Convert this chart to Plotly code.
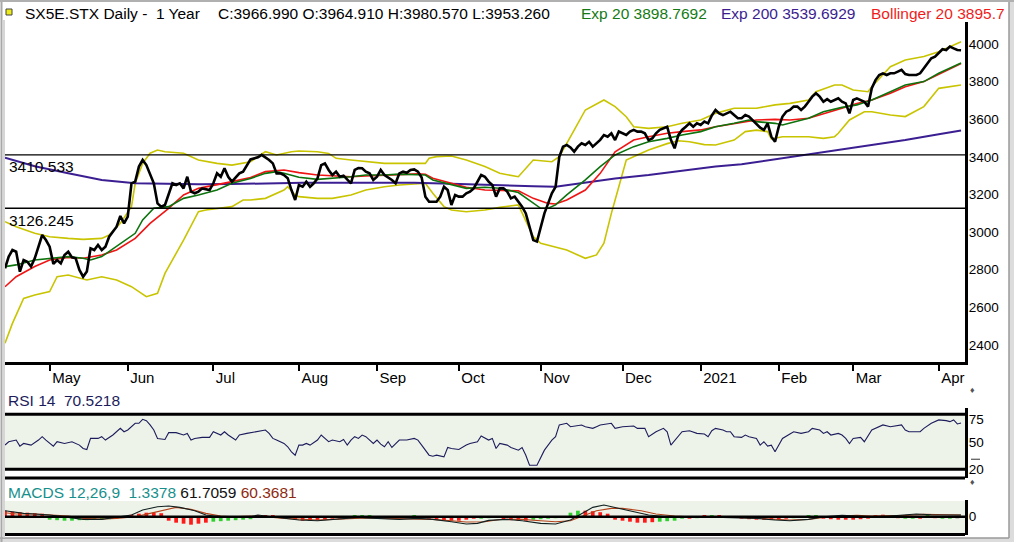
"""SX5E.STX daily, one year: price with Exp 20 / Exp 200 / Bollinger 20, RSI 14 and MACD 12,26,9.

Values are read off a chart screenshot. The x axis counts trading sessions from
the first bar (mid April 2020); month ticks are placed at the first session of each month.
"""
import plotly.graph_objects as go

W, H = 1014, 542

# ---- x axis: month starts, in sessions ----
MONTH_SESSIONS = [12, 33, 56, 79, 100, 122, 144, 166, 187, 208, 228, 251]
MONTH_LABELS = ["May", "Jun", "Jul", "Aug", "Sep", "Oct", "Nov", "Dec", "2021", "Feb", "Mar", "Apr"]

# ---- close ----
CLOSE_S = [0, 1, 2, 3, 4, 5, 6, 7, 8, 9, 10, 11, 12, 13, 14, 15, 16, 17, 18, 19, 20, 21, 22, 23, 24, 25,
           26, 27, 28, 30, 31, 32, 33, 34, 35, 36, 37, 38, 39, 40, 41, 42, 43, 44, 45, 46, 47, 48, 49, 50,
           51, 52, 53, 55, 56, 57, 58, 59, 60, 61, 63, 64, 65, 66, 68, 69, 71, 72, 73, 74, 75, 76, 77, 78,
           79, 80, 81, 82, 83, 84, 85, 86, 87, 88, 89, 90, 91, 92, 93, 94, 95, 96, 97, 98, 99, 100, 101,
           102, 103, 104, 105, 106, 107, 108, 109, 110, 111, 112, 113, 114, 116, 117, 118, 119, 120, 121,
           122, 123, 124, 125, 126, 127, 128, 129, 130, 131, 132, 133, 134, 135, 136, 137, 138, 139, 140,
           141, 142, 143, 144, 145, 146, 147, 148, 149, 150, 151, 152, 153, 154, 155, 156, 157, 158, 159,
           160, 161, 162, 163, 164, 165, 166, 167, 168, 169, 170, 171, 172, 173, 174, 175, 176, 177, 178,
           179, 180, 181, 182, 183, 184, 185, 186, 187, 188, 189, 190, 191, 192, 193, 194, 195, 196, 197,
           198, 199, 200, 201, 202, 203, 204, 205, 206, 207, 208, 209, 210, 211, 212, 213, 214, 215, 216,
           217, 218, 219, 220, 221, 222, 223, 224, 225, 226, 227, 228, 229, 230, 231, 232, 233, 234, 235,
           236, 237, 238, 239, 240, 241, 242, 243, 244, 245, 246, 247, 248, 249, 250, 251, 252, 253, 254,
           255, 256, 257]
CLOSE = [2807, 2869, 2904, 2895, 2789, 2851, 2842, 2816, 2860, 2922, 2984, 2957, 2922, 2830, 2851, 2833,
         2878, 2895, 2865, 2860, 2798, 2762, 2790, 2913, 2904, 2931, 2904, 2922, 2975, 3028, 3085, 3046,
         3082, 3259, 3268, 3348, 3383, 3356, 3312, 3259, 3152, 3135, 3144, 3206, 3259, 3250, 3259, 3232,
         3294, 3215, 3206, 3215, 3232, 3223, 3259, 3312, 3294, 3339, 3294, 3268, 3312, 3321, 3356, 3386,
         3397, 3410, 3383, 3365, 3312, 3312, 3303, 3286, 3223, 3170, 3250, 3241, 3268, 3241, 3259, 3285,
         3356, 3365, 3330, 3303, 3321, 3294, 3300, 3277, 3259, 3330, 3340, 3339, 3321, 3312, 3277, 3294,
         3330, 3303, 3290, 3277, 3259, 3312, 3321, 3315, 3330, 3333, 3321, 3290, 3188, 3161, 3161, 3188,
         3241, 3223, 3144, 3197, 3188, 3188, 3206, 3215, 3232, 3268, 3303, 3294, 3268, 3250, 3188, 3232,
         3232, 3215, 3179, 3188, 3161, 3135, 3099, 3028, 2957, 2949, 3028, 3099, 3152, 3206, 3240, 3400,
         3454, 3463, 3450, 3427, 3454, 3472, 3463, 3480, 3454, 3472, 3490, 3516, 3507, 3525, 3489, 3534,
         3525, 3516, 3534, 3543, 3534, 3534, 3525, 3489, 3498, 3525, 3543, 3551, 3560, 3490, 3445, 3515,
         3543, 3560, 3578, 3560, 3578, 3569, 3587, 3578, 3620, 3649, 3631, 3622, 3631, 3640, 3622, 3605,
         3605, 3622, 3614, 3596, 3578, 3555, 3543, 3578, 3507, 3480, 3560, 3614, 3640, 3649, 3667, 3667,
         3649, 3667, 3693, 3720, 3738, 3720, 3693, 3707, 3693, 3702, 3711, 3693, 3684, 3631, 3702, 3711,
         3702, 3693, 3667, 3765, 3808, 3835, 3844, 3835, 3844, 3844, 3853, 3862, 3840, 3835, 3835, 3835,
         3844, 3871, 3897, 3924, 3933, 3955, 3972, 3968, 3986, 3977, 3968, 3967]

# ---- Exp 20 (green) ----
EXP20_S = [0, 3, 8, 12, 17, 21, 23, 26, 30, 35, 37, 40, 44, 48, 52, 57, 61, 66, 70, 73, 75, 79, 84, 88,
           93, 97, 102, 106, 111, 113, 115, 120, 124, 129, 133, 138, 142, 144, 146, 148, 151, 156, 160,
           164, 169, 173, 178, 182, 187, 191, 196, 200, 202, 207, 209, 216, 220, 225, 229, 233, 238, 242,
           247, 251, 257]
EXP20 = [2816, 2825, 2851, 2860, 2869, 2860, 2851, 2869, 2922, 2993, 3064, 3126, 3135, 3179, 3197, 3223,
         3259, 3285, 3312, 3321, 3312, 3291, 3280, 3285, 3294, 3303, 3303, 3308, 3307, 3303, 3277, 3250,
         3232, 3238, 3233, 3210, 3152, 3126, 3126, 3144, 3197, 3277, 3348, 3410, 3454, 3480, 3498, 3516,
         3534, 3560, 3578, 3596, 3587, 3578, 3569, 3605, 3640, 3663, 3676, 3702, 3746, 3782, 3800, 3844,
         3899]

# ---- Bollinger 20 middle (red) ----
BOLL_MID_S = [0, 3, 8, 12, 17, 21, 26, 30, 35, 39, 44, 48, 52, 57, 61, 66, 70, 75, 79, 84, 88, 93, 97,
              102, 106, 111, 113, 115, 120, 124, 129, 133, 138, 142, 146, 148, 151, 156, 160, 164, 169,
              173, 178, 182, 187, 191, 196, 200, 202, 207, 211, 216, 220, 225, 229, 233, 238, 242, 247,
              251, 257]
BOLL_MID = [2709, 2762, 2816, 2851, 2865, 2860, 2878, 2904, 2966, 3046, 3126, 3197, 3232, 3250, 3268,
            3290, 3321, 3330, 3316, 3303, 3298, 3294, 3298, 3303, 3307, 3309, 3307, 3286, 3259, 3238,
            3223, 3222, 3219, 3179, 3152, 3149, 3170, 3223, 3312, 3427, 3489, 3507, 3525, 3534, 3543,
            3560, 3578, 3590, 3596, 3599, 3596, 3605, 3628, 3658, 3684, 3702, 3738, 3773, 3800, 3840,
            3896]

# ---- Bollinger 20 bands (olive yellow) ----
BOLL_UP_S = [0, 3, 8, 12, 17, 21, 26, 28, 31, 34, 35, 37, 39, 41, 43, 48, 52, 57, 61, 66, 68, 70, 73,
             77, 79, 84, 87, 89, 93, 97, 102, 106, 111, 113, 114, 116, 120, 124, 129, 133, 138, 142, 147,
             149, 153, 156, 161, 164, 167, 169, 173, 178, 182, 187, 191, 196, 198, 202, 207, 211, 216,
             218, 223, 225, 228, 232, 233, 238, 242, 247, 251, 257]
BOLL_UP = [3055, 3028, 2993, 2975, 2966, 2961, 2966, 2984, 3046, 3135, 3259, 3365, 3419, 3436, 3427,
           3419, 3383, 3365, 3356, 3374, 3401, 3427, 3410, 3427, 3431, 3427, 3418, 3392, 3383, 3374, 3365,
           3365, 3365, 3365, 3392, 3401, 3404, 3383, 3348, 3312, 3294, 3383, 3374, 3401, 3542, 3649, 3702,
           3667, 3613, 3560, 3551, 3560, 3578, 3596, 3631, 3658, 3658, 3658, 3676, 3684, 3702, 3746, 3782,
           3782, 3755, 3746, 3773, 3879, 3915, 3933, 3959, 4012]
BOLL_LO_S = [0, 2, 5, 8, 12, 14, 17, 22, 26, 30, 34, 38, 41, 43, 48, 52, 54, 61, 64, 66, 70, 75, 76, 78,
             79, 84, 88, 93, 97, 102, 106, 111, 113, 115, 118, 120, 124, 129, 133, 138, 142, 144, 151,
             156, 159, 161, 163, 165, 167, 170, 173, 178, 181, 184, 188, 191, 196, 199, 202, 205, 206,
             209, 216, 220, 223, 224, 227, 231, 233, 238, 242, 247, 251, 257]
BOLL_LO = [2408, 2514, 2647, 2665, 2683, 2762, 2771, 2745, 2762, 2745, 2709, 2656, 2674, 2780, 2957,
           3108, 3117, 3135, 3170, 3170, 3179, 3223, 3241, 3197, 3188, 3179, 3179, 3197, 3223, 3241, 3250,
           3254, 3259, 3206, 3135, 3117, 3108, 3117, 3131, 3144, 2975, 2940, 2904, 2860, 2878, 2940, 3099,
           3241, 3383, 3410, 3436, 3470, 3485, 3480, 3465, 3463, 3489, 3534, 3542, 3534, 3495, 3507, 3507,
           3498, 3507, 3525, 3596, 3640, 3640, 3622, 3614, 3667, 3764, 3782]

# ---- Exp 200 (purple) ----
EXP200_S = [0, 8, 17, 26, 35, 44, 52, 61, 69, 80, 95, 110, 120, 128, 136, 142, 148, 155, 164, 173, 182,
            191, 198, 206, 215, 224, 233, 242, 251, 257]
EXP200 = [3395, 3350, 3312, 3277, 3259, 3255, 3254, 3255, 3259, 3262, 3262, 3262, 3256, 3250, 3246, 3243,
          3241, 3259, 3285, 3303, 3326, 3348, 3360, 3383, 3410, 3436, 3463, 3489, 3520, 3540]

LEVELS = [3410.533, 3126.245]

# ---- RSI 14 ----
RSI_S = [0, 1, 3, 4, 5, 7, 9, 10, 11, 12, 13, 14, 16, 18, 20, 21, 22, 23, 25, 26, 27, 29, 31, 32, 33, 35,
         36, 37, 38, 39, 40, 41, 43, 44, 46, 48, 49, 50, 51, 53, 55, 56, 58, 59, 60, 62, 63, 65, 67, 69,
         70, 71, 72, 73, 75, 76, 77, 78, 79, 80, 81, 82, 84, 85, 86, 87, 88, 90, 91, 92, 93, 94, 95, 96,
         97, 98, 99, 100, 101, 102, 103, 104, 105, 106, 107, 108, 110, 111, 112, 114, 115, 116, 118, 119,
         120, 122, 124, 125, 127, 128, 130, 131, 132, 133, 135, 136, 138, 139, 140, 141, 143, 145, 147,
         148, 149, 151, 152, 154, 155, 156, 158, 159, 160, 163, 164, 166, 169, 170, 172, 173, 175, 177,
         178, 179, 181, 182, 184, 186, 188, 189, 190, 191, 193, 194, 195, 196, 198, 199, 200, 202, 203,
         204, 205, 206, 207, 208, 209, 211, 212, 214, 216, 217, 219, 220, 221, 222, 224, 225, 226, 227,
         228, 230, 231, 233, 234, 236, 238, 239, 241, 242, 243, 246, 247, 249, 250, 251, 253, 254, 255,
         256, 257]
RSI = [46.4, 50.1, 51.9, 45.3, 48.2, 46.4, 51.9, 55.6, 51.9, 49.0, 45.3, 50.1, 48.2, 50.1, 46.4, 42.7,
       41.6, 53.7, 53.7, 55.6, 51.9, 57.4, 64.7, 61.0, 62.9, 70.2, 70.2, 74.6, 73.1, 68.4, 62.9, 53.7,
       52.6, 60.0, 60.0, 57.4, 59.2, 51.9, 53.7, 54.8, 54.8, 61.0, 57.4, 61.0, 57.4, 51.9, 57.4, 59.2,
       61.0, 62.1, 62.9, 59.2, 53.7, 51.9, 48.2, 44.6, 39.1, 35.4, 46.4, 46.4, 48.2, 46.4, 51.9, 57.4,
       53.7, 50.1, 51.9, 50.1, 52.6, 46.4, 51.9, 55.6, 53.7, 57.4, 55.6, 51.9, 48.2, 51.9, 47.5, 44.6,
       50.1, 43.8, 48.2, 51.9, 51.9, 51.9, 53.7, 51.9, 46.4, 35.4, 34.3, 35.4, 33.6, 43.8, 42.7, 41.6,
       46.4, 48.2, 50.1, 56.3, 51.9, 53.7, 42.7, 48.2, 46.4, 43.8, 40.9, 43.8, 35.4, 24.4, 24.4, 40.9,
       51.9, 55.6, 68.4, 70.2, 66.5, 67.3, 68.4, 66.5, 64.7, 66.5, 68.4, 70.2, 64.7, 66.5, 67.3, 64.7,
       64.7, 55.6, 61.0, 64.7, 61.0, 46.4, 55.6, 61.0, 62.1, 59.2, 58.5, 55.6, 62.1, 64.7, 62.9, 61.0,
       61.0, 55.6, 54.8, 57.4, 55.6, 53.7, 46.4, 50.1, 45.3, 46.4, 39.1, 46.4, 53.7, 58.5, 61.0, 59.2,
       61.0, 64.7, 62.9, 59.2, 61.0, 57.4, 59.2, 57.4, 53.7, 48.2, 53.7, 54.8, 50.1, 62.9, 64.7, 68.4,
       66.5, 67.3, 68.4, 62.9, 61.0, 61.0, 64.7, 70.2, 72.0, 73.9, 73.1, 72.0, 73.9, 69.5, 70.5]

# ---- MACD 12,26,9 ----
MACD_S = [0, 2, 5, 8, 12, 17, 21, 26, 30, 34, 37, 41, 44, 47, 51, 54, 58, 61, 66, 68, 70, 75, 79, 84, 88,
          93, 95, 97, 102, 106, 111, 115, 120, 124, 127, 130, 135, 139, 144, 148, 152, 156, 158, 161, 164,
          169, 173, 178, 184, 193, 202, 207, 211, 216, 220, 225, 229, 233, 238, 242, 245, 249, 252, 257]
MACD = [216, 180, 120, 96, 60, -24, -96, -96, -24, 60, 240, 360, 384, 336, 216, 60, 0, -24, 0, 60, 24,
        -60, -120, -144, -96, -60, -24, -48, -72, -96, -60, -96, -180, -264, -240, -132, -96, -144, -240,
        -264, -120, 180, 336, 420, 336, 180, 60, 0, -24, -24, -60, -120, -144, -96, 0, 48, 24, 0, 24, 60,
        96, 72, 72, 62]
SIGNAL_S = [0, 3, 8, 12, 17, 21, 26, 30, 35, 39, 44, 46, 50, 54, 58, 61, 66, 70, 75, 79, 84, 88, 93, 97,
            102, 106, 111, 115, 120, 124, 129, 133, 135, 139, 144, 148, 152, 156, 159, 163, 166, 171, 175,
            180, 184, 193, 202, 207, 211, 216, 220, 225, 229, 233, 238, 242, 247, 251, 257]
SIGNAL = [144, 96, 96, 60, 24, -60, -84, -60, 0, 120, 264, 336, 264, 120, 24, 0, 24, 0, -60, -96, -120,
          -96, -60, -48, -60, -72, -72, -96, -144, -192, -180, -100, -90, -96, -144, -180, -144, 60, 216,
          300, 300, 216, 96, 24, 0, 0, -48, -96, -120, -96, -24, 24, 48, 24, 24, 48, 84, 84, 60]
HIST_S = list(range(0, 257, 2))
HIST = [216, 180, 162, 144, 126, 108, -108, -126, -144, -144, -126, -126, -108, -108, -90, -72, -36, 72,
        108, 144, 144, 126, -144, -216, -252, -288, -252, -216, -180, -162, -144, -126, -108, -90, 36, 54,
        36, -36, -72, -108, -144, -144, -126, -108, -72, -72, -54, 36, 54, 36, -36, -54, -36, -36, -36, 36,
        -36, -72, -108, -126, -144, -144, -108, -72, -72, -54, -36, -108, -126, -144, -144, -108, -90, -72,
        -54, -36, 144, 216, 216, 198, 162, 108, -108, -144, -180, -216, -216, -198, -180, -162, -144, -72,
        -72, -54, 36, 36, 36, -36, -36, -72, -90, -108, -108, -108, -108, -72, -54, -36, 36, 54, -72, -90,
        -108, -108, -108, -90, -72, 54, 72, 54, -54, -72, -72, -72, 36, -54, -72, -72, -54]
HIST_UP = "rrrrrrggggggggggg" "rrrrr" "rrrrrr" "gggggg" "rrrrrr" "rrrrr" "rrgg" "grrggrgr" "rrrrrrr" "ggg" \
          "rrrr" "ggggg" "gg" "rrrr" "rrrrrr" "ggg" "grgrgrgr" "rrrrrrr" "gggg" "rrrrrrrrrrr" "ggrgrgg"

BLACK = "#000000"
FONT = "Liberation Sans, Arial, sans-serif"


def px(x):
    return x / W


def py(y):
    return 1 - y / H


fig = go.Figure()

# main panel
for s, v in [(BOLL_UP_S, BOLL_UP), (BOLL_LO_S, BOLL_LO)]:
    fig.add_trace(go.Scatter(x=s, y=v, mode="lines", line=dict(color="#c9c400", width=1.6)))
fig.add_trace(go.Scatter(x=EXP200_S, y=EXP200, mode="lines", line=dict(color="#3b1f92", width=2)))
fig.add_trace(go.Scatter(x=BOLL_MID_S, y=BOLL_MID, mode="lines", line=dict(color="#f01414", width=1.6)))
fig.add_trace(go.Scatter(x=EXP20_S, y=EXP20, mode="lines", line=dict(color="#0d730d", width=1.6)))
fig.add_trace(go.Scatter(x=CLOSE_S, y=CLOSE, mode="lines", line=dict(color=BLACK, width=2.6)))

# RSI panel
fig.add_trace(go.Scatter(x=RSI_S, y=RSI, mode="lines", yaxis="y2", line=dict(color="#1c1c5c", width=1.1)))

# MACD panel
fig.add_trace(go.Bar(x=HIST_S, y=HIST, yaxis="y3", width=1.0,
                     marker=dict(color=["#ff1a1a" if c == "r" else "#2fd02f" for c in HIST_UP],
                                 line=dict(width=0))))
fig.add_trace(go.Scatter(x=SIGNAL_S, y=SIGNAL, mode="lines", yaxis="y3", line=dict(color="#b4421a", width=1.1)))
fig.add_trace(go.Scatter(x=MACD_S, y=MACD, mode="lines", yaxis="y3", line=dict(color="#102020", width=1.1)))

X0, X1 = px(5), px(965)
shapes = [
    # panel backgrounds
    dict(type="rect", xref="paper", yref="y2", x0=X0, x1=X1, y0=20, y1=80,
         fillcolor="#eef3e9", line=dict(width=0), layer="below"),
    dict(type="rect", xref="paper", yref="paper", x0=X0, x1=X1, y0=py(533), y1=py(501),
         fillcolor="#eef3e9", line=dict(width=0), layer="below"),
    # RSI box and separators
    dict(type="line", xref="paper", yref="y2", x0=X0, x1=X1, y0=80, y1=80, line=dict(color=BLACK, width=3)),
    dict(type="line", xref="paper", yref="y2", x0=X0, x1=X1, y0=20, y1=20, line=dict(color=BLACK, width=3)),
    dict(type="line", xref="paper", yref="paper", x0=X0, x1=X1, y0=py(478), y1=py(478),
         line=dict(color=BLACK, width=3)),
    dict(type="line", xref="paper", yref="y2", x0=px(971), x1=px(988), y0=31, y1=31,
         line=dict(color="#333333", width=1, dash="dash")),
    # MACD zero and bottom line
    dict(type="line", xref="paper", yref="y3", x0=X0, x1=X1, y0=0, y1=0, line=dict(color=BLACK, width=2.5)),
    dict(type="line", xref="paper", yref="paper", x0=X0, x1=X1, y0=py(534.5), y1=py(534.5),
         line=dict(color=BLACK, width=3)),
    # window frame
    dict(type="rect", xref="paper", yref="paper", x0=px(1009), x1=1, y0=0, y1=1,
         fillcolor="#dcdcdc", line=dict(width=0)),
    dict(type="rect", xref="paper", yref="paper", x0=0, x1=1, y0=0, y1=py(538),
         fillcolor="#dcdcdc", line=dict(width=0)),
    dict(type="line", xref="paper", yref="paper", x0=px(1009), x1=px(1009), y0=py(538), y1=1,
         line=dict(color="#9a9a9a", width=1.5)),
    dict(type="line", xref="paper", yref="paper", x0=0, x1=px(1009), y0=py(538), y1=py(538),
         line=dict(color="#9a9a9a", width=1.5)),
    dict(type="line", xref="paper", yref="paper", x0=px(1.5), x1=px(1.5), y0=0, y1=1,
         line=dict(color="#a8a8a8", width=2)),
    dict(type="line", xref="paper", yref="paper", x0=px(4), x1=px(4), y0=py(538), y1=py(20),
         line=dict(color="#c8c8c8", width=1.5)),
    dict(type="line", xref="paper", yref="paper", x0=0, x1=1, y0=py(1), y1=py(1),
         line=dict(color="#b0b0b0", width=2)),
    # flag icon in header
    dict(type="rect", xref="paper", yref="paper", x0=px(6), x1=px(12), y0=py(15), y1=py(9),
         fillcolor="#ecec1a", line=dict(color="#444444", width=1)),
]
for lv in LEVELS:
    shapes.append(dict(type="line", xref="paper", yref="y", x0=X0, x1=X1, y0=lv, y1=lv,
                       line=dict(color=BLACK, width=1.3)))


def note(x, y, text, color=BLACK, size=15.5, xanchor="left"):
    return dict(x=px(x), y=py(y), xref="paper", yref="paper", text=text, showarrow=False,
                xanchor=xanchor, yanchor="middle", font=dict(family=FONT, size=size, color=color))


annotations = [
    note(23, 14, "SX5E.STX Daily -  1 Year"),
    note(216, 14, "C:3966.990 O:3964.910 H:3980.570 L:3953.260"),
    note(579, 14, "Exp 20 3898.7692", color="#157a15"),
    note(719, 14, "Exp 200 3539.6929", color="#3b1d8f"),
    note(869, 14, "Bollinger 20 3895.7", color="#f01c1c"),
    note(7, 166, "3410.533"),
    note(7, 220, "3126.245"),
    note(6, 400, "RSI 14  70.5218", color="#1c1c5c"),
    note(6, 492, "MACDS 12,26,9  1.3378 <span style='color:#111111'>61.7059</span> "
                 "<span style='color:#8f2a10'>60.3681</span>", color="#17908c"),
    note(968, 390, "♦", color="#555555", size=9),
    note(968, 482, "♦", color="#555555", size=9),
]

yfont = dict(family=FONT, size=13.5, color=BLACK)
fig.update_layout(
    width=W, height=H, margin=dict(l=0, r=0, t=0, b=0),
    paper_bgcolor="white", plot_bgcolor="white", showlegend=False,
    shapes=shapes, annotations=annotations,
    xaxis=dict(domain=[X0, X1], range=[0, 258.06], anchor="y",
               tickvals=MONTH_SESSIONS, ticktext=MONTH_LABELS, ticks="outside", ticklen=6,
               tickwidth=2, tickcolor=BLACK, ticklabelposition="outside right",
               showline=True, linewidth=3, linecolor=BLACK, showgrid=False, zeroline=False,
               tickfont=dict(family=FONT, size=15, color=BLACK)),
    yaxis=dict(domain=[py(362), py(22)], range=[2308.5, 4117], side="right", anchor="x",
               tickvals=list(range(2400, 4001, 200)), ticks="", showline=True, linewidth=3,
               linecolor=BLACK, showgrid=False, zeroline=False, tickfont=yfont, ticklabelstandoff=-2),
    yaxis2=dict(domain=[py(478), py(408)], range=[10.5, 86.9], side="right", anchor="x",
                tickvals=[20, 50, 75], ticks="", showline=True, linewidth=3, linecolor=BLACK,
                showgrid=False, zeroline=False, tickfont=yfont, ticklabelstandoff=-2),
    yaxis3=dict(domain=[py(535), py(500)], range=[-659, 601], side="right", anchor="x",
                tickvals=[0], ticks="", showline=True, linewidth=3, linecolor=BLACK,
                showgrid=False, zeroline=False, tickfont=yfont, ticklabelstandoff=-2),
)

# the page body has a default 8px margin; drop it so the chart sits at the window corner
fig.write_html("out.html", config={"displayModeBar": False},
               post_script="document.body.style.margin='0';")
